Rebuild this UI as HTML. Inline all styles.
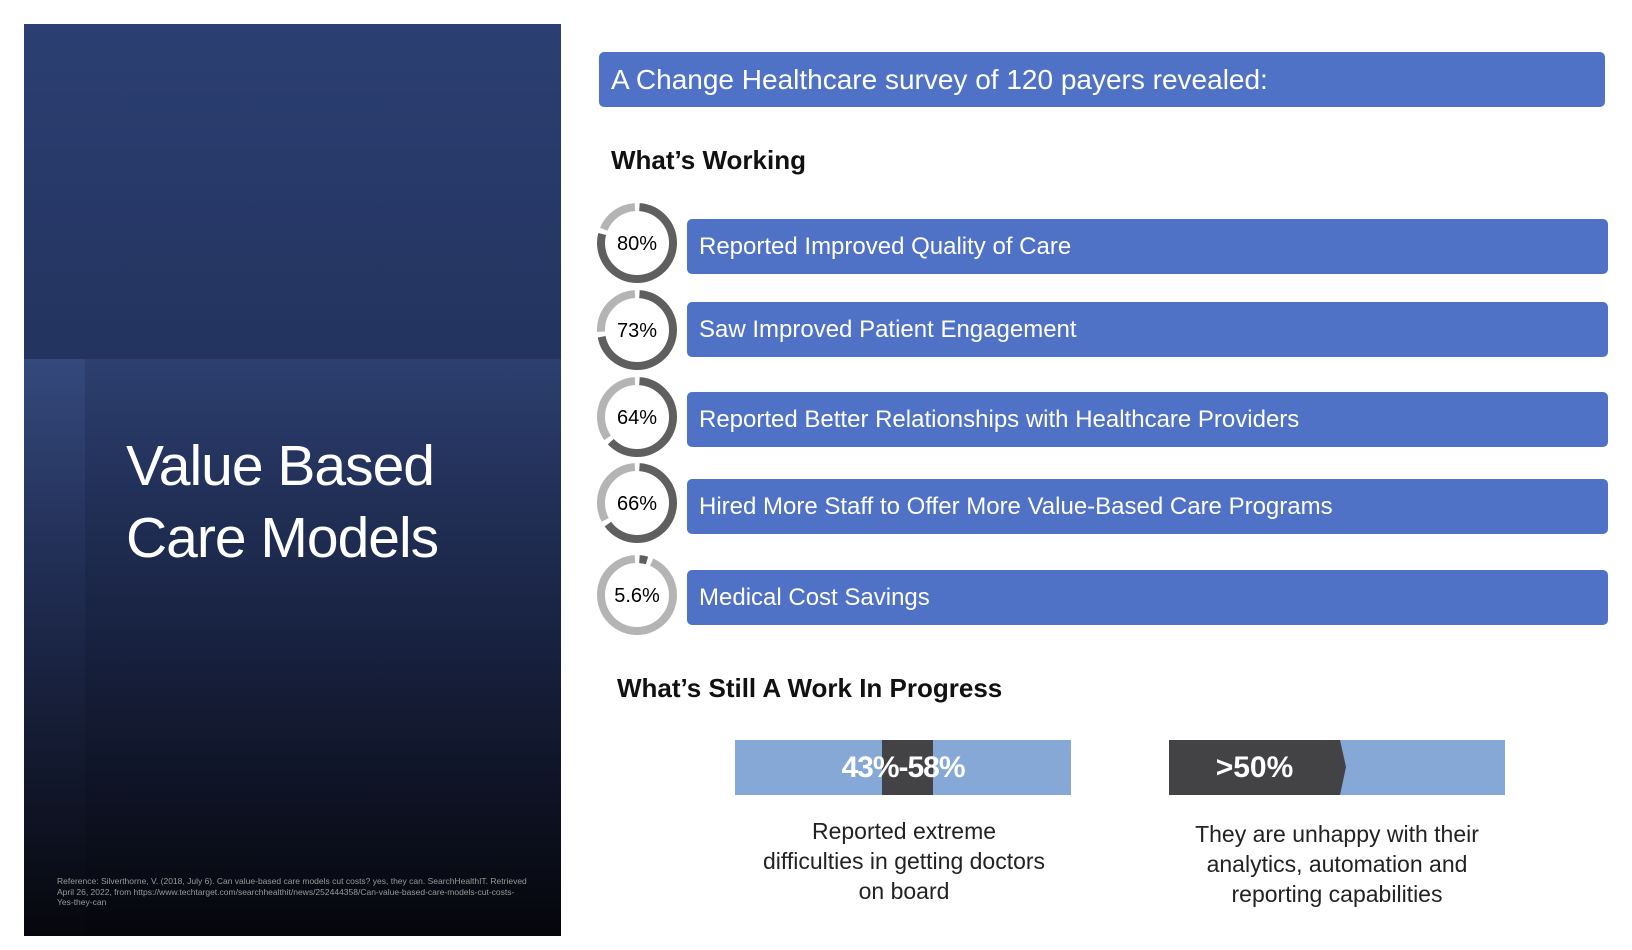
<!DOCTYPE html>
<html><head><meta charset="utf-8"><style>
body{margin:0;width:1632px;height:950px;background:#fff;position:relative;overflow:hidden;font-family:"Liberation Sans",sans-serif}
.abs{position:absolute}
#panel{left:24px;top:24px;width:537px;height:912px;overflow:hidden;background:linear-gradient(#2b3f72,#161f3e)}
#lower{left:0;top:335px;width:537px;height:577px;background:linear-gradient(#2c3f6f 0%,#1b2648 40%,#05060b 100%)}
#strip{left:0;top:335px;width:61px;height:577px;background:linear-gradient(#34497c 0%,#1f2b50 40%,#06070c 100%)}
#title{left:102px;top:406px;color:#fff;font-size:57px;line-height:72px;letter-spacing:-1px}
#ref{left:33px;top:852px;width:470px;color:#9a9a9a;font-size:8.5px;line-height:10.5px}
.bar{position:absolute;background:#4f71c6;border-radius:5px;color:#fff;font-size:24px;box-sizing:border-box;padding-left:12px;display:flex;align-items:center}
h2{position:absolute;margin:0;font-size:26px;font-weight:bold;color:#111}
.cap{position:absolute;text-align:center;font-size:23px;line-height:30px;color:#222;width:360px}
</style></head><body>
<div id="panel" class="abs">
 <div id="lower" class="abs"></div>
 <div id="strip" class="abs"></div>
 <div id="title" class="abs">Value Based<br>Care Models</div>
 <div id="ref" class="abs">Reference: Silverthorne, V. (2018, July 6). Can value-based care models cut costs? yes, they can. SearchHealthIT. Retrieved April 26, 2022, from https://www.techtarget.com/searchhealthit/news/252444358/Can-value-based-care-models-cut-costs-Yes-they-can</div>
</div>
<div class="bar" style="left:599px;top:52px;width:1006px;height:55px;font-size:28px">A Change Healthcare survey of 120 payers revealed:</div>
<h2 style="left:611px;top:145px">What’s Working</h2>
<h2 style="left:617px;top:673px">What’s Still A Work In Progress</h2>
<svg class="abs" style="left:0;top:0" width="1632" height="950" id="rings"></svg>
<div id="bars"></div>
<div class="abs" style="left:735px;top:740px;width:336px;height:55px;background:#85a8d6"></div>
<div class="abs" style="left:882px;top:740px;width:51px;height:55px;background:#434244"></div>
<div class="abs" style="left:735px;top:740px;width:336px;height:55px;color:#fff;font-weight:bold;font-size:30px;text-align:center;line-height:55px;letter-spacing:-1px">43%-58%</div>
<div class="abs" style="left:1169px;top:740px;width:336px;height:55px;background:#85a8d6"></div>
<svg class="abs" style="left:1169px;top:740px" width="180" height="55"><polygon points="0,0 171,0 177,27 171,55 0,55" fill="#434244"/></svg>
<div class="abs" style="left:1169px;top:740px;width:171px;height:55px;color:#fff;font-weight:bold;font-size:30px;text-align:center;line-height:55px">&gt;50%</div>
<div class="cap" style="left:724px;top:816px">Reported extreme<br>difficulties in getting doctors<br>on board</div>
<div class="cap" style="left:1157px;top:819px">They are unhappy with their<br>analytics, automation and<br>reporting capabilities</div>
<script>
const labels=["80%","73%","64%","66%","5.6%"];
const values=[80,73,64,66,5.6];
const items=["Reported Improved Quality of Care","Saw Improved Patient Engagement","Reported Better Relationships with Healthcare Providers","Hired More Staff to Offer More Value-Based Care Programs","Medical Cost Savings"];
const cys=[243,330,417,503,595], bt=[219,302,392,479,570];
const svg=document.getElementById('rings'),NS='http://www.w3.org/2000/svg';
const r=36,C=2*Math.PI*r,gap=5;
values.forEach((v,i)=>{
 const cx=637,cy=cys[i];
 const g=document.createElementNS(NS,'g');
 
 
 g.setAttribute('transform',`rotate(-90 ${cx} ${cy})`);
 const d=C*v/100;
 [[0,d,'#5f5f5f'],[d,C-d,'#b4b4b4']].forEach(([off,len,col])=>{
  const c=document.createElementNS(NS,'circle');
  c.setAttribute('cx',cx);c.setAttribute('cy',cy);c.setAttribute('r',r);
  c.setAttribute('fill','none');c.setAttribute('stroke',col);c.setAttribute('stroke-width',8);
  c.setAttribute('stroke-dasharray',`${Math.max(len-gap,0)} ${C}`);
  c.setAttribute('stroke-dashoffset',-(off+gap/2));
  g.appendChild(c);
 });
 svg.appendChild(g);
 const t=document.createElementNS(NS,'text');
 t.setAttribute('x',cx);t.setAttribute('y',cy+7);t.setAttribute('text-anchor','middle');
 t.setAttribute('font-size','20');t.setAttribute('font-family','Liberation Sans, sans-serif');
 t.textContent=labels[i];
 
 
 svg.appendChild(t);
 const b=document.createElement('div');
 b.className='bar';
 b.style.cssText=`left:687px;top:${bt[i]}px;width:921px;height:55px`;
 b.textContent=items[i];
 
 
 document.getElementById('bars').appendChild(b);
});
</script>
</body></html>
